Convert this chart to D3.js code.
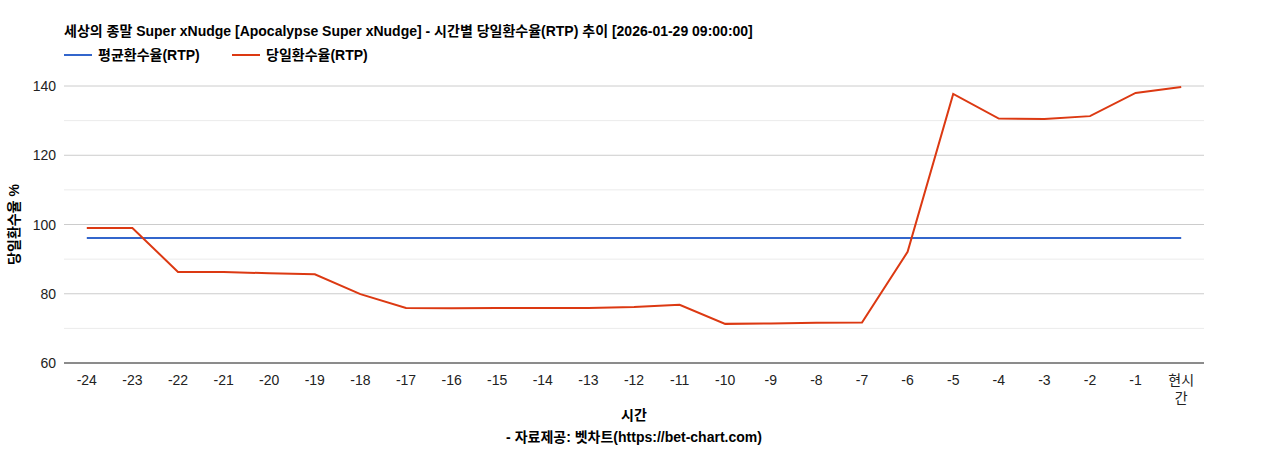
<!DOCTYPE html>
<html><head><meta charset="utf-8">
<script src="https://cdn.jsdelivr.net/npm/d3@7"></script>
<style>body{margin:0;background:#fff;font-family:"Liberation Sans","Noto Sans CJK KR",sans-serif;}</style>
</head><body><div id="chart"></div>
<script>
// data
const hours = ["-24","-23","-22","-21","-20","-19","-18","-17","-16","-15","-14","-13","-12","-11","-10","-9","-8","-7","-6","-5","-4","-3","-2","-1","현시간"];
const dailyRtp = [99.0,99.0,86.3,86.3,85.9,85.6,79.9,75.9,75.8,75.9,75.9,75.9,76.2,76.8,71.3,71.4,71.6,71.7,92.1,137.7,130.6,130.5,131.3,138.0,139.7];
const avgRtp = hours.map(() => 96.1);
const yTicks = [60,80,100,120,140];

const W = 1268, H = 450;
const m = {left: 64, right: 64, top: 86, bottom: 87};
const svg = d3.select("#chart").append("svg").attr("width", W).attr("height", H);

const x = d3.scaleBand().domain(hours).range([m.left, W - m.right]);
const y = d3.scaleLinear().domain([60, 140]).range([H - m.bottom, m.top]);
const cx = d => x(d) + x.bandwidth() / 2;

// grid
svg.append("g").selectAll("line").data(d3.range(60, 141, 10)).enter().append("line")
    .attr("x1", m.left).attr("x2", W - m.right)
    .attr("y1", d => y(d)).attr("y2", d => y(d))
    .attr("stroke", d => d % 20 === 0 ? "#cccccc" : "#ebebeb");
svg.append("line").attr("x1", m.left).attr("x2", W - m.right)
    .attr("y1", y(60)).attr("y2", y(60)).attr("stroke", "#333");

svg.append("g").selectAll("text").data(yTicks).enter().append("text")
    .attr("x", m.left - 8).attr("y", d => y(d) + 5).attr("text-anchor", "end")
    .style("font-size", "14px").attr("fill", "#222").text(d => d);

svg.append("g").selectAll("text").data(hours).enter().append("text")
    .attr("x", d => cx(d)).attr("y", y(60) + 22).attr("text-anchor", "middle")
    .style("font-size", "14px").attr("fill", "#222")
    .each(function (d) {
        const t = d3.select(this);
        if (d === "현시간") {
            t.append("tspan").attr("x", cx(d)).text("현시");
            t.append("tspan").attr("x", cx(d)).attr("dy", 18).text("간");
        } else t.text(d);
    });

const line = d3.line().x((d, i) => cx(hours[i])).y(d => y(d));
svg.append("path").datum(avgRtp).attr("d", line).attr("fill", "none").attr("stroke", "#3366cc").attr("stroke-width", 2);
svg.append("path").datum(dailyRtp).attr("d", line).attr("fill", "none").attr("stroke", "#dc3912").attr("stroke-width", 2);

// titles
svg.append("text").attr("x", 64).attr("y", 36).style("font-size", "14px").style("font-weight", "bold")
    .text("세상의 종말 Super xNudge [Apocalypse Super xNudge] - 시간별 당일환수율(RTP) 추이 [2026-01-29 09:00:00]");
const legend = [["평균환수율(RTP)", "#3366cc", 64], ["당일환수율(RTP)", "#dc3912", 232]];
legend.forEach(([t, c, lx]) => {
    svg.append("line").attr("x1", lx).attr("x2", lx + 28).attr("y1", 55).attr("y2", 55).attr("stroke", c).attr("stroke-width", 2);
    svg.append("text").attr("x", lx + 34).attr("y", 60).style("font-size", "14px").style("font-weight", "bold").text(t);
});
svg.append("text").attr("x", 634).attr("y", 420).attr("text-anchor", "middle").style("font-size", "14px").style("font-weight", "bold").text("시간");
svg.append("text").attr("x", 634).attr("y", 442).attr("text-anchor", "middle").style("font-size", "14px").style("font-weight", "bold").text("- 자료제공: 벳차트(https://bet-chart.com)");
svg.append("text").attr("transform", `translate(19,${(m.top + H - m.bottom) / 2}) rotate(-90)`)
    .attr("text-anchor", "middle").style("font-size", "14px").style("font-weight", "bold").text("당일환수율 %");
</script></body></html>
